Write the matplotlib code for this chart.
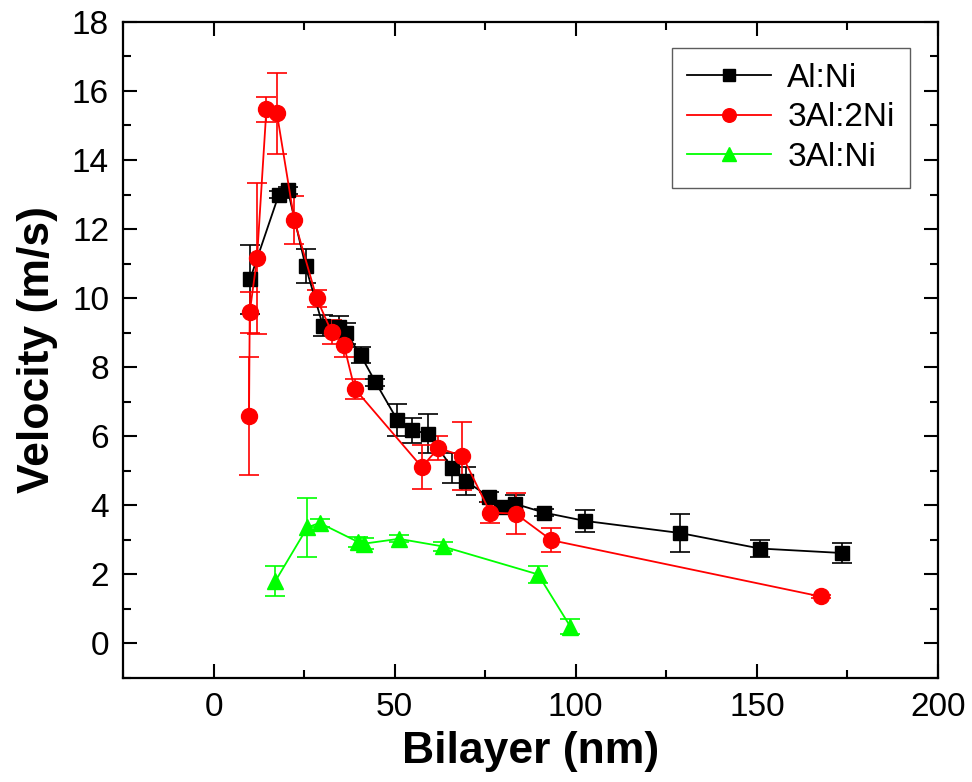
import matplotlib
matplotlib.use("Agg")
import matplotlib.pyplot as plt
from matplotlib.ticker import MultipleLocator
from matplotlib.lines import Line2D

plt.rcParams['font.family'] = ['Liberation Sans', 'DejaVu Sans']

# Al:Ni
alni_x = [10.1, 18.0, 20.5, 25.4, 30.2, 34.6, 36.7, 40.6, 44.7, 50.7, 54.9, 59.2, 65.9, 69.8, 76.0, 79.3, 83.1, 91.2, 102.5, 128.7, 150.8, 173.4]
alni_y = [10.55, 12.99, 13.13, 10.93, 9.20, 9.17, 8.98, 8.35, 7.57, 6.48, 6.17, 6.08, 5.08, 4.70, 4.24, 3.94, 4.05, 3.79, 3.55, 3.20, 2.75, 2.62]
alni_err = [1.0, 0.1, 0.1, 0.5, 0.3, 0.3, 0.3, 0.24, 0.1, 0.46, 0.36, 0.57, 0.44, 0.41, 0.15, 0.15, 0.26, 0.1, 0.31, 0.54, 0.26, 0.28]

# 3Al:2Ni
al3ni2_x = [9.8, 10.0, 12.0, 14.6, 17.5, 22.3, 28.5, 32.6, 36.0, 38.95, 57.5, 62.1, 68.7, 76.4, 83.4, 93.3, 167.6]
al3ni2_y = [6.58, 9.59, 11.15, 15.47, 15.35, 12.26, 9.99, 9.02, 8.64, 7.38, 5.11, 5.66, 5.43, 3.79, 3.76, 2.99, 1.36]
al3ni2_err = [1.71, 0.59, 2.18, 0.36, 1.18, 0.70, 0.25, 0.34, 0.34, 0.29, 0.65, 0.35, 0.99, 0.30, 0.60, 0.35, 0.05]

# 3Al:Ni
al3ni_x = [17.1, 25.9, 29.3, 39.9, 41.5, 51.2, 63.3, 89.6, 98.5]
al3ni_y = [1.81, 3.36, 3.49, 2.94, 2.89, 3.03, 2.81, 2.00, 0.49]
al3ni_err = [0.43, 0.86, 0.12, 0.15, 0.15, 0.10, 0.12, 0.25, 0.22]

labels = ['Al:Ni', '3Al:2Ni', '3Al:Ni']
colors = ['black', '#ff0000', '#00ff00']
markers = ['s', 'o', '^']
msizes = [10, 11.5, 12]

fig = plt.figure(figsize=(9.72, 7.82), dpi=100)
ax = fig.add_axes([0.1265, 0.133, 0.8385, 0.839])

series = [(alni_x, alni_y, alni_err), (al3ni2_x, al3ni2_y, al3ni2_err), (al3ni_x, al3ni_y, al3ni_err)]
handles = []
for (x, y, e), lab, c, m, ms in zip(series, labels, colors, markers, msizes):
    ax.errorbar(x, y, yerr=e, color=c, ecolor=c, elinewidth=1.2, capsize=7, capthick=1.2,
                marker=m, markersize=ms, markeredgecolor=c, markerfacecolor=c,
                linewidth=1.3)
    handles.append(Line2D([], [], color=c, marker=m, markersize=ms * 0.85,
                          markeredgecolor=c, markerfacecolor=c, linewidth=1.3, label=lab))

ax.set_xlim(-25, 200)
ax.set_ylim(-1, 18)
ax.xaxis.set_major_locator(MultipleLocator(50))
ax.xaxis.set_minor_locator(MultipleLocator(25))
ax.yaxis.set_major_locator(MultipleLocator(2))
ax.yaxis.set_minor_locator(MultipleLocator(1))
ax.tick_params(which='both', direction='in', top=True, right=True, width=1.5, labelsize=24)
ax.tick_params(which='major', length=10, pad=10)
ax.tick_params(which='minor', length=6)
for s in ax.spines.values():
    s.set_linewidth(1.6)

ax.set_xlabel('Bilayer (nm)', fontsize=32, fontweight='bold', labelpad=6)
ax.set_ylabel('Velocity (m/s)', fontsize=32, fontweight='bold', labelpad=10)

leg = ax.legend(handles=handles, loc='upper right', bbox_to_anchor=(0.936, 0.9386),
                bbox_transform=fig.transFigure,
                borderaxespad=0, fontsize=24, fancybox=False, frameon=True,
                edgecolor='#333333', handlelength=2.5, handletextpad=0.5, labelspacing=0.25,
                borderpad=0.45)
leg.get_frame().set_linewidth(1.0)
fig.savefig('out.png', dpi=100)
